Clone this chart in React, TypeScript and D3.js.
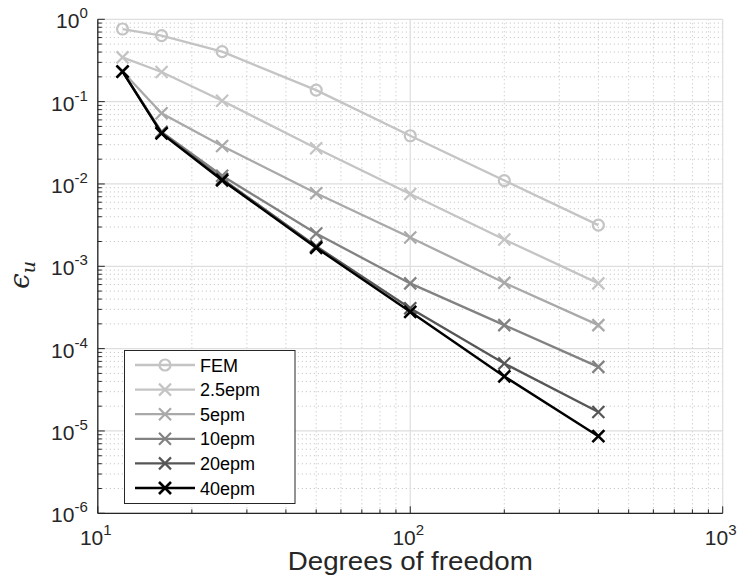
import React from "react";
import * as d3 from "d3";

const dofs = [12, 16, 25, 50, 100, 200, 400];
const seriesNames = ["FEM", "2.5epm", "5epm", "10epm", "20epm", "40epm"];
const femVals = [0.762, 0.632, 0.404, 0.138, 0.0385, 0.011, 0.00316];
const epm25Vals = [0.345, 0.229, 0.1026, 0.0271, 0.00754, 0.00212, 0.00062];
const epm5Vals = [0.232, 0.0721, 0.0289, 0.0077, 0.00224, 0.00063, 0.000193];
const epm10Vals = [0.232, 0.043, 0.0126, 0.0025, 0.00062, 0.000193, 0.00006];
const epm20Vals = [0.232, 0.042, 0.0115, 0.00175, 0.00031, 0.000066, 0.000017];
const epm40Vals = [0.231, 0.0412, 0.0111, 0.00168, 0.00028, 0.000046, 0.00000865];
const seriesVals = [femVals, epm25Vals, epm5Vals, epm10Vals, epm20Vals, epm40Vals];
const seriesColors = ["#c4c4c4", "#c4c4c4", "#a9a9a9", "#828282", "#565656", "#000000"];
const seriesMarkers = ["o", "x", "x", "x", "x", "x"];
const xTickExps = [1, 2, 3];
const yTickExps = [0, -1, -2, -3, -4, -5, -6];

const W = 741, H = 581;
const left = 97.8, right = 722.7, top = 19.3, bottom = 513.3;
const FONT = "'Liberation Sans', Arial, Helvetica, sans-serif";

export default function App() {
  const x = d3.scaleLog().domain([10, 1000]).range([left, right]);
  const y = d3.scaleLog().domain([1e-6, 1]).range([bottom, top]);
  const line = d3.line<[number, number]>().x(d => x(d[0])).y(d => y(d[1]));

  const minorX: number[] = [];
  for (let e = 1; e < 3; e++) for (let m = 2; m <= 9; m++) minorX.push(m * Math.pow(10, e));
  const minorY: number[] = [];
  for (let e = -6; e < 0; e++) for (let m = 2; m <= 9; m++) minorY.push(m * Math.pow(10, e));

  const marker = (type: string, cx: number, cy: number, color: string, key: string, sw: number) => {
    if (type === "o") return <circle key={key} cx={cx} cy={cy} r={5.5} fill="none" stroke={color} strokeWidth={sw} />;
    const s = 6;
    return (
      <path key={key} d={`M${cx - s},${cy - s}L${cx + s},${cy + s}M${cx - s},${cy + s}L${cx + s},${cy - s}`} stroke={color} strokeWidth={sw} fill="none" />
    );
  };

  const legX = 124.5, legY = 350.5, legW = 170.5, legH = 153;
  const legRowY = (i: number) => 365 + i * 24.6;

  return (
    <svg width={W} height={H} style={{ position: "absolute", left: 0, top: 0, background: "#fff" }} fontFamily={FONT}>
      <rect x={0} y={0} width={W} height={H} fill="#fff" />
      {minorX.map((v, i) => (
        <line key={"mx" + i} x1={x(v)} x2={x(v)} y1={top} y2={bottom} stroke="#bdbdbd" strokeWidth={1} strokeDasharray="1,3" />
      ))}
      {minorY.map((v, i) => (
        <line key={"my" + i} x1={left} x2={right} y1={y(v)} y2={y(v)} stroke="#bdbdbd" strokeWidth={1} strokeDasharray="1,3" />
      ))}
      {xTickExps.map(e => (
        <line key={"gx" + e} x1={x(Math.pow(10, e))} x2={x(Math.pow(10, e))} y1={top} y2={bottom} stroke="#dedede" strokeWidth={1.2} />
      ))}
      {yTickExps.map(e => (
        <line key={"gy" + e} x1={left} x2={right} y1={y(Math.pow(10, e))} y2={y(Math.pow(10, e))} stroke="#dedede" strokeWidth={1.2} />
      ))}
      <line x1={left} x2={right} y1={bottom} y2={bottom} stroke="#262626" strokeWidth={1.3} />
      <line x1={left} x2={left} y1={top} y2={bottom} stroke="#262626" strokeWidth={1.3} />
      {minorX.map((v, i) => (
        <line key={"tmx" + i} x1={x(v)} x2={x(v)} y1={bottom} y2={bottom - 4} stroke="#262626" strokeWidth={1} />
      ))}
      {xTickExps.map(e => (
        <line key={"tx" + e} x1={x(Math.pow(10, e))} x2={x(Math.pow(10, e))} y1={bottom} y2={bottom - 7} stroke="#262626" strokeWidth={1} />
      ))}
      {minorY.map((v, i) => (
        <line key={"tmy" + i} x1={left} x2={left + 4} y1={y(v)} y2={y(v)} stroke="#262626" strokeWidth={1} />
      ))}
      {yTickExps.map(e => (
        <line key={"ty" + e} x1={left} x2={left + 7} y1={y(Math.pow(10, e))} y2={y(Math.pow(10, e))} stroke="#262626" strokeWidth={1} />
      ))}
      {xTickExps.map(e => (
        <text key={"lx" + e} x={x(Math.pow(10, e)) - 2} y={bottom + 32} textAnchor="middle" fontSize={21} fill="#262626">
          10<tspan dy={-10} fontSize={15}>{e}</tspan>
        </text>
      ))}
      {yTickExps.map(e => (
        <text key={"ly" + e} x={left - 10} y={y(Math.pow(10, e)) + 9} textAnchor="end" fontSize={21} fill="#262626">
          10<tspan dy={-10} fontSize={15}>{e < 0 ? "-" + -e : String(e)}</tspan>
        </text>
      ))}
      <text x={(left + right) / 2} y={570} textAnchor="middle" fontSize={25} fill="#262626" textLength={245} lengthAdjust="spacingAndGlyphs">Degrees of freedom</text>
      <text transform={`translate(29,275) rotate(-90)`} textAnchor="middle" fontSize={28} fill="#262626" fontStyle="italic" fontFamily="'DejaVu Serif', 'Liberation Serif', serif">
        ϵ<tspan dy={6} fontSize={19}>u</tspan>
      </text>
      {seriesVals.map((vals, si) => {
        const pts = dofs.map((d, i) => [d, vals[i]] as [number, number]);
        const sw = si === 5 ? 2.4 : 2.3;
        return (
          <g key={"s" + si}>
            <path d={line(pts) || ""} fill="none" stroke={seriesColors[si]} strokeWidth={sw} />
            {pts.map((p, i) => marker(seriesMarkers[si], x(p[0]), y(p[1]), seriesColors[si], "m" + si + "_" + i, si === 5 ? 2.6 : 2.2))}
          </g>
        );
      })}
      <rect x={legX} y={legY} width={legW} height={legH} fill="#fff" stroke="#262626" strokeWidth={1} />
      {seriesNames.map((n, i) => (
        <g key={"leg" + i}>
          <line x1={135} x2={195} y1={legRowY(i)} y2={legRowY(i)} stroke={seriesColors[i]} strokeWidth={2.3} />
          {marker(seriesMarkers[i], 165, legRowY(i), seriesColors[i], "lm" + i, i === 5 ? 2.6 : 2.2)}
          <text x={200} y={legRowY(i) + 6.5} fontSize={18} fill="#000">{n}</text>
        </g>
      ))}
    </svg>
  );
}
